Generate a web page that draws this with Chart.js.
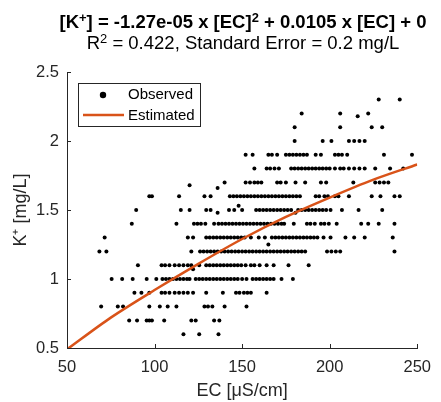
<!DOCTYPE html>
<html>
<head>
<meta charset="utf-8">
<script src="https://cdn.jsdelivr.net/npm/chart.js@4"></script>
<style>
  html, body { margin: 0; padding: 0; background: #fff; }
  #wrap { position: relative; width: 441px; height: 402px; }
  .ttl {
    position: absolute; left: 43px; width: 400px; text-align: center; white-space: nowrap;
    font-family: "Liberation Sans", Arial, sans-serif; font-size: 18.5px; line-height: 20px; color: #000;
  }
  #t1 { top: 12px; font-weight: bold; }
  #t2 { top: 33px; }
  .ttl sup { font-size: 0.7em; position: relative; top: -0.45em; vertical-align: baseline; line-height: 0; }
</style>
</head>
<body>
<div id="wrap">
  <canvas id="chart" width="441" height="402"></canvas>
  <div class="ttl" id="t1">[K<sup>+</sup>] = -1.27e-05 x [EC]<sup>2</sup> + 0.0105 x [EC] + 0</div>
  <div class="ttl" id="t2">R<sup>2</sup> = 0.422, Standard Error = 0.2 mg/L</div>
</div>
<script>
const AXIS_COLOR = "#262626";
const FIT_COLOR  = "#D95319";

// observed EC values, one list per K+ level (mg/L)
const EC_K23 = [228, 240];
const EC_K22 = [184, 206, 222];
const EC_K21 = [180, 206, 224, 230];
const EC_K20 = [180, 196, 201, 211, 214, 217, 220];
const EC_K19 = [152, 156, 165, 167, 170, 175, 177, 179, 181, 183, 185, 187, 192, 195, 203, 205, 207, 210, 231, 247];
const EC_K18 = [157, 164, 166, 168.5, 171, 178, 180, 182, 184, 186, 188, 190, 192, 194, 196, 198, 200, 203, 206, 208, 211, 214, 217, 220, 226, 234.5, 242];
const EC_K17 = [140, 152, 154.5, 157, 159, 161, 170, 172, 175, 180.5, 186, 195, 198, 213.5, 226, 228.5, 231, 233.5];
const EC_K16 = [97, 98.5, 114, 128.5, 132, 143, 145, 147, 149, 151, 153, 155, 157, 159, 161, 163, 165, 167, 169, 171, 173, 175, 177, 179, 181, 183, 192, 194, 197, 199, 203, 205, 211, 224, 229, 237, 240];
const EC_K15 = [89.5, 115, 120, 129.5, 132, 142.5, 145.5, 150, 158, 160, 162, 164, 166, 168, 170, 172, 174, 176, 178, 182, 184, 186, 188, 190, 192, 194, 196, 198, 200.5, 207, 216.5, 230];
const EC_K14 = [87, 112.5, 122.5, 124.5, 126.5, 129, 134, 136.5, 138.5, 140.5, 142.5, 144.5, 146.5, 148.5, 150.5, 152.5, 154.5, 156.5, 158.5, 160.5, 162.5, 164.5, 166.5, 168.5, 170.5, 172.5, 174, 179.5, 187, 189, 191.5, 195, 197, 199.5, 204, 218, 222, 228, 237];
const EC_K13 = [71.5, 119, 122, 129.5, 131.5, 133.5, 135.5, 137.5, 139.5, 141.5, 143.5, 145.5, 147.5, 149.5, 151.5, 155, 159.5, 163, 167, 169, 171, 173, 175, 177, 179, 181, 183, 185, 187, 189, 191, 193, 196.5, 200.5, 209, 214, 220, 236];
const EC_K12 = [68.5, 72.5, 121, 126, 128, 130, 132, 134, 136, 138, 140, 142, 144, 146, 148, 150, 152, 154, 156, 158, 160, 162, 164, 166, 168, 170, 172, 174, 176, 178, 180, 182, 184, 186, 198.5, 201, 203.5, 206, 237];
const EC_K11 = [90.5, 104, 106, 108.5, 111.5, 114, 116.5, 119, 121, 125.5, 129.5, 131.5, 133.5, 135.5, 137.5, 139.5, 141.5, 143.5, 145.5, 147.5, 149.5, 152, 155, 157, 160, 164, 168, 176.5, 188];
const EC_K10 = [75.5, 81.5, 87.5, 95.5, 101, 104.5, 106.5, 108.5, 110.5, 112.5, 114.5, 116.5, 118.5, 120, 123.5, 125.5, 127.5, 129.5, 131.5, 133.5, 135.5, 137.5, 139.5, 141.5, 143.5, 145.5, 147.5, 150, 152.5, 156, 158, 160, 162, 164, 166, 168, 172.5, 179];
const EC_K09 = [88.5, 92.5, 97, 104, 106, 108.5, 111.5, 114, 116.5, 119, 122, 129.5, 139, 146.5, 148.5, 151, 153, 155, 164];
const EC_K08 = [69.5, 79, 82, 97, 103, 107.5, 112.5, 128.5, 130.5, 133, 140, 152.5];
const EC_K07 = [85.5, 90, 95.5, 97, 98.5, 105.5, 121, 123.5, 134, 137];
const EC_K06 = [116.5, 125.5, 136.5];

const K_LEVELS = [2.3, 2.2, 2.1, 2.0, 1.9, 1.8, 1.7, 1.6, 1.5, 1.4, 1.3, 1.2, 1.1, 1.0, 0.9, 0.8, 0.7, 0.6];
const EC_ROWS  = [EC_K23, EC_K22, EC_K21, EC_K20, EC_K19, EC_K18, EC_K17, EC_K16, EC_K15,
                  EC_K14, EC_K13, EC_K12, EC_K11, EC_K10, EC_K09, EC_K08, EC_K07, EC_K06];

// a few points that sit off the 0.1 grid
const EXTRA_EC = [216, 120, 136, 148, 136, 180.5, 165, 122];
const EXTRA_K  = [2.18, 1.68, 1.66, 1.53, 1.48, 1.48, 1.25, 1.07];

// fitted curve
const FIT_EC = [50, 75, 100, 125, 150, 175, 200, 225, 250];
const FIT_K  = [0.49, 0.72, 0.92, 1.11, 1.29, 1.45, 1.59, 1.72, 1.83];

const observed = [];
K_LEVELS.forEach((k, i) => EC_ROWS[i].forEach(ec => observed.push({ x: ec, y: k })));
EXTRA_EC.forEach((ec, i) => observed.push({ x: ec, y: EXTRA_K[i] }));
const fitted = FIT_EC.map((ec, i) => ({ x: ec, y: FIT_K[i] }));

Chart.defaults.font.family = '"Liberation Sans", Arial, sans-serif';

// MATLAB-style ticks pointing into the axes
const inwardTicks = {
  id: "inwardTicks",
  afterDraw(chart) {
    const { ctx, chartArea: a, scales: { x, y } } = chart;
    ctx.save();
    ctx.strokeStyle = AXIS_COLOR;
    ctx.lineWidth = 1;
    ctx.beginPath();
    x.ticks.forEach(t => {
      const px = Math.round(x.getPixelForValue(t.value)) + 0.5;
      ctx.moveTo(px, a.bottom);
      ctx.lineTo(px, a.bottom - 4);
    });
    y.ticks.forEach(t => {
      const py = Math.round(y.getPixelForValue(t.value)) + 0.5;
      ctx.moveTo(a.left, py);
      ctx.lineTo(a.left + 4, py);
    });
    ctx.stroke();
    ctx.restore();
  },
};

// boxed legend in the upper-left corner of the axes
const boxLegend = {
  id: "boxLegend",
  afterDraw(chart) {
    const { ctx, chartArea: a } = chart;
    const [obs, est] = chart.data.datasets;
    const x0 = a.left + 11, y0 = a.top + 11, w = 122, h = 43;
    ctx.save();
    ctx.fillStyle = "#fff";
    ctx.fillRect(x0, y0, w, h);
    ctx.strokeStyle = AXIS_COLOR;
    ctx.lineWidth = 1;
    ctx.strokeRect(x0 + 0.5, y0 + 0.5, w, h);

    ctx.fillStyle = "#000";
    ctx.beginPath();
    ctx.arc(x0 + 25, y0 + 12, 3.2, 0, Math.PI * 2);
    ctx.fill();

    ctx.strokeStyle = est.borderColor;
    ctx.lineWidth = est.borderWidth;
    ctx.beginPath();
    ctx.moveTo(x0 + 5, y0 + 32);
    ctx.lineTo(x0 + 46, y0 + 32);
    ctx.stroke();

    ctx.font = '15px "Liberation Sans", Arial, sans-serif';
    ctx.textBaseline = "middle";
    ctx.fillStyle = "#000";
    ctx.fillText(obs.label, x0 + 50, y0 + 12);
    ctx.fillText(est.label, x0 + 50, y0 + 33);
    ctx.restore();
  },
};

new Chart(document.getElementById("chart"), {
  type: "scatter",
  data: {
    datasets: [
      {
        label: "Observed", data: observed, order: 2,
        backgroundColor: "#000", borderColor: "#000",
        pointRadius: 2, pointBorderWidth: 0, pointHoverRadius: 2,
      },
      {
        label: "Estimated", data: fitted, order: 1, showLine: true,
        borderColor: FIT_COLOR, backgroundColor: FIT_COLOR, borderWidth: 2.5,
        pointRadius: 0, tension: 0.3, fill: false,
      },
    ],
  },
  options: {
    responsive: false,
    animation: false,
    events: [],
    layout: { padding: { top: 72, right: 22, bottom: 0, left: 0 } },
    plugins: { legend: { display: false }, tooltip: { enabled: false } },
    scales: {
      x: {
        type: "linear", min: 50, max: 250,
        ticks: { stepSize: 50, color: AXIS_COLOR, font: { size: 16.5 }, padding: 10, maxRotation: 0 },
        grid: { display: false, drawTicks: false },
        border: { display: true, color: AXIS_COLOR, width: 1 },
        title: { display: true, text: "EC [μS/cm]", color: AXIS_COLOR, font: { size: 18 }, padding: { top: 0, bottom: 0 } },
        afterFit: s => { s.height = 54; },
      },
      y: {
        type: "linear", min: 0.5, max: 2.5,
        ticks: { stepSize: 0.5, color: AXIS_COLOR, font: { size: 16.5 }, padding: 8, callback: v => String(v) },
        grid: { display: false, drawTicks: false },
        border: { display: true, color: AXIS_COLOR, width: 1 },
        title: { display: true, text: "K⁺ [mg/L]", color: AXIS_COLOR, font: { size: 18 }, padding: { top: 10, bottom: 0 } },
        afterFit: s => { s.width = 67; },
      },
    },
  },
  plugins: [inwardTicks, boxLegend],
});
</script>
</body>
</html>
